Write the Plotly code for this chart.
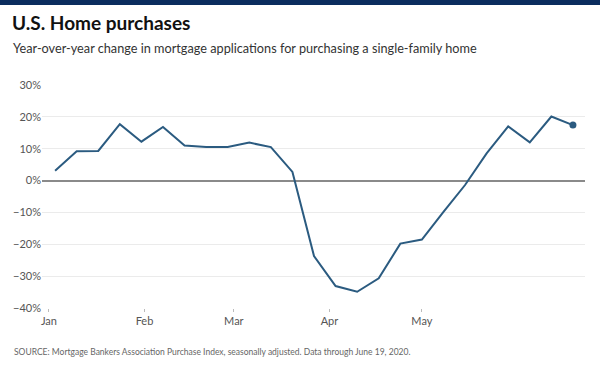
import plotly.graph_objects as go

# Weekly data (week ending Fridays), YoY % change
dates = ["2020-01-03", "2020-01-10", "2020-01-17", "2020-01-24", "2020-01-31",
         "2020-02-07", "2020-02-14", "2020-02-21", "2020-02-28", "2020-03-06",
         "2020-03-13", "2020-03-20", "2020-03-27", "2020-04-03", "2020-04-10",
         "2020-04-17", "2020-04-24", "2020-05-01", "2020-05-08", "2020-05-15",
         "2020-05-22", "2020-05-29", "2020-06-05", "2020-06-12", "2020-06-19"]
values = [3.1, 9.2, 9.3, 17.7, 12.2,
          16.8, 11.0, 10.5, 10.5, 11.9,
          10.5, 2.7, -23.7, -33.1, -34.9,
          -30.7, -19.8, -18.5, -9.8, -1.4,
          8.5, 17.0, 12.0, 20.1, 17.4]

tick_vals = ["2020-01-01", "2020-02-01", "2020-03-01", "2020-04-01", "2020-05-01"]
tick_text = ["Jan", "Feb", "Mar", "Apr", "May"]
y_ticks = [-40, -30, -20, -10, 0, 10, 20, 30]
y_tick_text = ["\u221240%", "\u221230%", "\u221220%", "\u221210%", "0%", "10%", "20%", "30%"]

title = "U.S. Home purchases"
subtitle = "Year-over-year change in mortgage applications for purchasing a single-family home"
source = "SOURCE: Mortgage Bankers Association Purchase Index, seasonally adjusted. Data through June 19, 2020."

line_color = "#2b5b80"
font_family = "Lato, 'Open Sans', Arial, sans-serif"

fig = go.Figure()
fig.add_trace(go.Scatter(x=dates, y=values, mode="lines",
                         line=dict(color=line_color, width=2),
                         hoverinfo="skip", showlegend=False))
fig.add_trace(go.Scatter(x=dates[-1:], y=values[-1:], mode="markers",
                         marker=dict(color=line_color, size=7),
                         hoverinfo="skip", showlegend=False))

L, R, T, B = 42, 15, 84, 57
W, H = 600, 365
pw = W - L - R
ph = H - T - B

def py(pix):
    return (H - B - pix) / ph

fig.update_layout(
    width=W, height=H,
    margin=dict(l=L, r=R, t=T, b=B),
    paper_bgcolor="white", plot_bgcolor="white",
    font=dict(family=font_family, color="#555"),
    xaxis=dict(type="date",
               range=["2019-12-29 18:00", "2020-06-22 22:00"],
               tickvals=tick_vals, ticktext=tick_text,
               showgrid=False, zeroline=False, showline=False,
               ticks="outside", ticklen=3, tickcolor="#bbb",
               tickfont=dict(size=11, color="#555")),
    yaxis=dict(range=[-40, 30.3], tickvals=y_ticks, ticktext=y_tick_text,
               showgrid=True, gridcolor="#ebebeb", gridwidth=1,
               zeroline=True, zerolinecolor="#8a8a8a", zerolinewidth=2,
               showline=False, ticks="",
               tickfont=dict(size=11, color="#555")),
    shapes=[dict(type="rect", xref="paper", yref="paper",
                 x0=-L / pw, x1=(W - L) / pw, y0=py(5), y1=py(-1),
                 fillcolor="#0b2d5e", line=dict(width=0), layer="above")],
    annotations=[
        dict(text="<b>" + title + "</b>", xref="paper", yref="paper",
             x=(10 - L) / pw, y=py(22), xanchor="left", yanchor="middle",
             showarrow=False, font=dict(size=19, color="#111", family=font_family)),
        dict(text=subtitle, xref="paper", yref="paper",
             x=(11 - L) / pw, y=py(48), xanchor="left", yanchor="middle",
             showarrow=False, font=dict(size=12.7, color="#333", family=font_family)),
        dict(text=source, xref="paper", yref="paper",
             x=(12 - L) / pw, y=py(352), xanchor="left", yanchor="middle",
             showarrow=False, font=dict(size=8.5, color="#666", family=font_family)),
    ],
)

fig.write_html("out.html", config={"displayModeBar": False},
               post_script="document.body.style.margin='0';document.body.style.overflow='hidden';")
